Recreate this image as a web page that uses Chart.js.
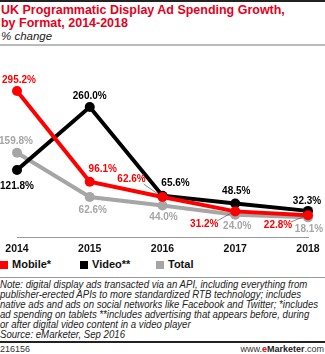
<!DOCTYPE html>
<html>
<head>
<meta charset="utf-8">
<script src="https://cdn.jsdelivr.net/npm/chart.js@4"></script>
<style>
  html, body { margin: 0; padding: 0; background: #fff; }
  body { width: 325px; height: 354px; position: relative; overflow: hidden; font-family: 'Liberation Sans', Arial, sans-serif; }
  .topbar { position: absolute; left: 0; top: 0; width: 325px; height: 2px; background: #222; }
  .title { position: absolute; left: 1px; top: 4px; color: #e5001c; font-weight: bold; font-size: 13px; line-height: 12.5px; white-space: nowrap; transform: scaleX(0.96); transform-origin: left top; }
  .subtitle { position: absolute; left: 1px; top: 30px; font-style: italic; font-size: 11.5px; color: #222; }
  .rule { position: absolute; left: 0; width: 325px; background: #bbb; }
  .chart-box { position: absolute; left: 0; top: 48px; width: 325px; height: 209px; }
  .legend { position: absolute; top: 258px; left: 0; font-weight: bold; font-size: 11px; color: #111; }
  .legend span.item { position: absolute; white-space: nowrap; }
  .legend i { display: inline-block; width: 8px; height: 8px; margin-right: 4px; vertical-align: -1px; }
  .note { position: absolute; left: 0; top: 280px; font-style: italic; font-size: 10.5px; line-height: 9.9px; color: #222; white-space: nowrap; transform: scaleX(0.915); transform-origin: left top; }
  .footbar { position: absolute; left: 0; top: 341px; width: 325px; height: 2px; background: #222; }
  .foot { position: absolute; top: 344px; font-size: 9px; color: #333; }
</style>
</head>
<body>
<div class="topbar"></div>
<div class="title">UK Programmatic Display Ad Spending Growth,<br>by Format, 2014-2018</div>
<div class="subtitle">% change</div>
<div class="rule" style="top:44px;height:2px;"></div>

<div class="chart-box"><canvas id="growthChart"></canvas></div>

<div class="legend">
  <span class="item" style="left:0;"><i style="background:#ff0000"></i>Mobile*</span>
  <span class="item" style="left:80px;"><i style="background:#000"></i>Video**</span>
  <span class="item" style="left:156px;"><i style="background:#a6a6a6"></i>Total</span>
</div>
<div class="rule" style="top:277px;height:1px;background:#999;"></div>

<div class="note">Note: digital display ads transacted via an API, including everything from<br>publisher-erected APIs to more standardized RTB technology; includes<br>native ads and ads on social networks like Facebook and Twitter; *includes<br>ad spending on tablets **includes advertising that appears before, during<br>or after digital video content in a video player<br>Source: eMarketer, Sep 2016</div>
<div class="footbar"></div>
<div class="foot" style="left:0;">216156</div>
<div class="foot" style="right:1px;">www.<b style="color:#e5001c">e</b><b style="color:#222">Marketer</b>.com</div>

<script>
const years = ['2014', '2015', '2016', '2017', '2018'];
const mobileGrowth = [295.2, 96.1, 62.6, 31.2, 22.8];
const videoGrowth = [121.8, 260.0, 65.6, 48.5, 32.3];
const totalGrowth = [159.8, 62.6, 44.0, 24.0, 18.1];

const seriesNames = ['Mobile*', 'Video**', 'Total'];
const seriesColors = ['#ff0000', '#000000', '#a6a6a6'];

// label placement relative to each point: [dx, dy, leader line?]
const labelOffsets = [
  [[2, -11], [13, -13], [-31, -18, true], [-31, 13, true], [-30, 10, true]],
  [[0, 16], [0, -11], [13, -12], [1, -12], [-1, -10]],
  [[-1, -12], [3, 13], [1, 12], [2, 12], [1, 12]]
];

const pointLabels = {
  id: 'pointLabels',
  afterDatasetsDraw(chart) {
    const ctx = chart.ctx;
    ctx.save();
    ctx.font = "bold 10px 'Liberation Sans', Arial, sans-serif";
    ctx.textAlign = 'center';
    ctx.textBaseline = 'middle';
    chart.data.datasets.forEach((ds, di) => {
      const meta = chart.getDatasetMeta(di);
      meta.data.forEach((pt, i) => {
        const off = labelOffsets[di][i];
        const x = pt.x + off[0];
        const y = pt.y + off[1];
        const text = ds.data[i].toFixed(1) + '%';
        if (off[2]) {
          const w = ctx.measureText(text).width;
          ctx.strokeStyle = '#555';
          ctx.lineWidth = 0.7;
          ctx.beginPath();
          ctx.moveTo(x + w / 2 - 2, y + (off[1] < 0 ? 5 : -3));
          ctx.lineTo(pt.x - 3, pt.y + (off[1] < 0 ? -2 : 1));
          ctx.stroke();
        }
        ctx.fillStyle = ds.borderColor;
        ctx.fillText(text, x, y);
      });
    });
    ctx.restore();
  }
};

const makeSeries = (idx, values) => ({
  label: seriesNames[idx],
  data: values,
  borderColor: seriesColors[idx],
  backgroundColor: seriesColors[idx],
  borderWidth: 4,
  pointRadius: 5,
  pointBorderWidth: 0,
  tension: 0
});

new Chart(document.getElementById('growthChart'), {
  type: 'line',
  data: {
    labels: years,
    datasets: [
      makeSeries(0, mobileGrowth),
      makeSeries(1, videoGrowth),
      makeSeries(2, totalGrowth)
    ]
  },
  options: {
    responsive: true,
    maintainAspectRatio: false,
    animation: false,
    layout: { padding: { left: 17, right: 17, top: 13.5, bottom: 0 } },
    plugins: {
      legend: { display: false },
      tooltip: { enabled: false }
    },
    scales: {
      x: {
        offset: false,
        grid: { display: false, drawTicks: true, tickLength: 3, color: '#999' },
        border: { display: true, color: '#999', width: 1 },
        ticks: {
          color: '#111',
          padding: 3,
          maxRotation: 0,
          font: { family: "'Liberation Sans', Arial, sans-serif", size: 10.5, weight: 'bold' }
        },
        afterFit(scale) { scale.height = 20; }
      },
      y: {
        display: false,
        min: -25,
        max: 360
      }
    }
  },
  plugins: [pointLabels]
});
</script>
</body>
</html>
